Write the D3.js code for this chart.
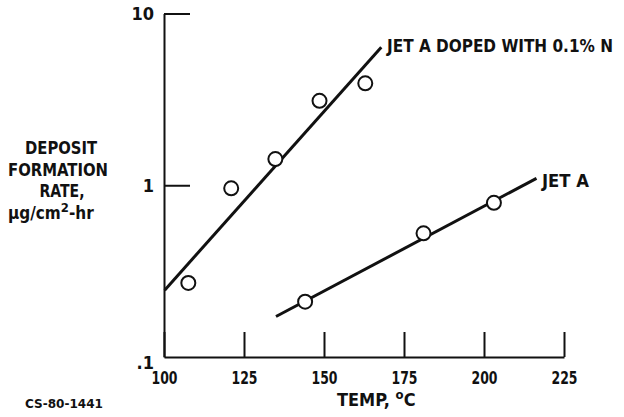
<!DOCTYPE html>
<html>
<head>
    <meta charset="utf-8">
    <title>Deposit formation rate</title>
    <script src="https://d3js.org/d3.v7.min.js"></script>
    <style>
        body { margin: 0; background: #fff; }
        svg text { font-family: "Liberation Sans Narrow", "DejaVu Sans Condensed", "Arial Narrow", sans-serif; fill: #111; font-weight: bold; }
    </style>
</head>
<body>
    <svg id="chart" width="624" height="417"></svg>

    <script>
        // data
        const dopedTemps = [107.6, 121, 134.8, 148.6, 162.9];
        const dopedRates = [0.27, 0.96, 1.42, 3.1, 3.92];
        const jetATemps = [144.1, 181.1, 203.1];
        const jetARates = [0.21, 0.525, 0.79];

        // fitted lines (end points)
        const dopedFitTemps = [100.2, 167.9];
        const dopedFitRates = [0.245, 6.36];
        const jetAFitTemps = [135, 216.4];
        const jetAFitRates = [0.172, 1.097];

        const xTicks = [100, 125, 150, 175, 200, 225];
        const yTicks = [0.1, 1, 10];

        const svg = d3.select("#chart");
        svg.append("rect").attr("width", 624).attr("height", 417).attr("fill", "#fff");

        const x = d3.scaleLinear().domain([100, 225]).range([164, 564]);
        const y = d3.scaleLog().domain([0.1, 10]).range([357, 13.5]);

        const zip = (a, b) => a.map((t, i) => ({temp: t, rate: b[i]}));

        // x axis, ticks pointing up
        const xAxis = svg.append("g")
            .attr("transform", `translate(0,${y(0.1)})`)
            .call(d3.axisBottom(x).tickValues(xTicks).tickSize(-25).tickSizeOuter(0).tickPadding(14));
        xAxis.selectAll("text").attr("font-size", 18)
            .attr("font-family", "\"Liberation Sans Narrow\", \"DejaVu Sans Condensed\", sans-serif")
            .attr("textLength", 26).attr("lengthAdjust", "spacingAndGlyphs");

        // y axis, ticks pointing right
        const yAxis = svg.append("g")
            .attr("transform", `translate(${x(100)},0)`)
            .call(d3.axisLeft(y).tickValues(yTicks).tickSize(-26).tickSizeOuter(0).tickPadding(10)
                .tickFormat(d => d < 1 ? ".1" : String(d)));
        yAxis.selectAll("text").attr("font-size", 18)
            .attr("font-family", "\"Liberation Serif\", \"DejaVu Serif\", serif")
            .attr("font-weight", "bold");
        yAxis.selectAll(".tick").filter(d => d < 1).select("text").attr("dy", "0.65em").attr("x", -10);
        yAxis.selectAll(".tick").filter(d => d < 1).select("line").remove();

        svg.selectAll(".domain, .tick line").attr("stroke", "#111").attr("stroke-width", 2);

        const line = d3.line().x(d => x(d.temp)).y(d => y(d.rate));

        svg.append("path").datum(zip(dopedFitTemps, dopedFitRates))
            .attr("d", line).attr("fill", "none").attr("stroke", "#111").attr("stroke-width", 3);
        svg.append("path").datum(zip(jetAFitTemps, jetAFitRates))
            .attr("d", line).attr("fill", "none").attr("stroke", "#111").attr("stroke-width", 3);

        svg.selectAll("circle.pt")
            .data(zip(dopedTemps, dopedRates).concat(zip(jetATemps, jetARates)))
            .join("circle")
            .attr("class", "pt")
            .attr("cx", d => x(d.temp))
            .attr("cy", d => y(d.rate))
            .attr("r", 7)
            .attr("fill", "#fff")
            .attr("stroke", "#111")
            .attr("stroke-width", 2);

        // line labels
        svg.append("text").attr("x", 387).attr("y", 52).attr("font-size", 17)
            .attr("textLength", 226).attr("lengthAdjust", "spacingAndGlyphs")
            .text("JET A DOPED WITH 0.1% N");
        svg.append("text").attr("x", 542).attr("y", 187).attr("font-size", 18)
            .attr("textLength", 47).attr("lengthAdjust", "spacingAndGlyphs")
            .text("JET A");

        // y title
        const yTitle = [
            {t: "DEPOSIT", cx: 61, y: 154, w: 72},
            {t: "FORMATION", cx: 58, y: 176, w: 100},
            {t: "RATE,", cx: 62, y: 197, w: 45}
        ];
        yTitle.forEach(d => {
            svg.append("text").attr("x", d.cx - d.w / 2).attr("y", d.y).attr("font-size", 18)
                .attr("textLength", d.w).attr("lengthAdjust", "spacingAndGlyphs").text(d.t);
        });
        const unit = svg.append("text").attr("x", 8).attr("y", 219).attr("font-size", 17);
        unit.append("tspan").text("µg/cm");
        unit.append("tspan").attr("dy", -7).attr("font-size", 13).text("2");
        unit.append("tspan").attr("dy", 7).text("-hr");

        // x title
        const xTitle = svg.append("text").attr("x", 337).attr("y", 406).attr("font-size", 18);
        xTitle.append("tspan").text("TEMP, ");
        xTitle.append("tspan").attr("dy", -7).attr("font-size", 13).text("o");
        xTitle.append("tspan").attr("dy", 7).text("C");

        svg.append("text").attr("x", 25).attr("y", 408).attr("font-size", 12)
            .attr("font-family", "\"Liberation Mono\", \"DejaVu Sans Mono\", monospace")
            .attr("font-weight", "normal")
            .attr("textLength", 78).attr("lengthAdjust", "spacingAndGlyphs")
            .text("CS-80-1441");
    </script>
</body>
</html>
